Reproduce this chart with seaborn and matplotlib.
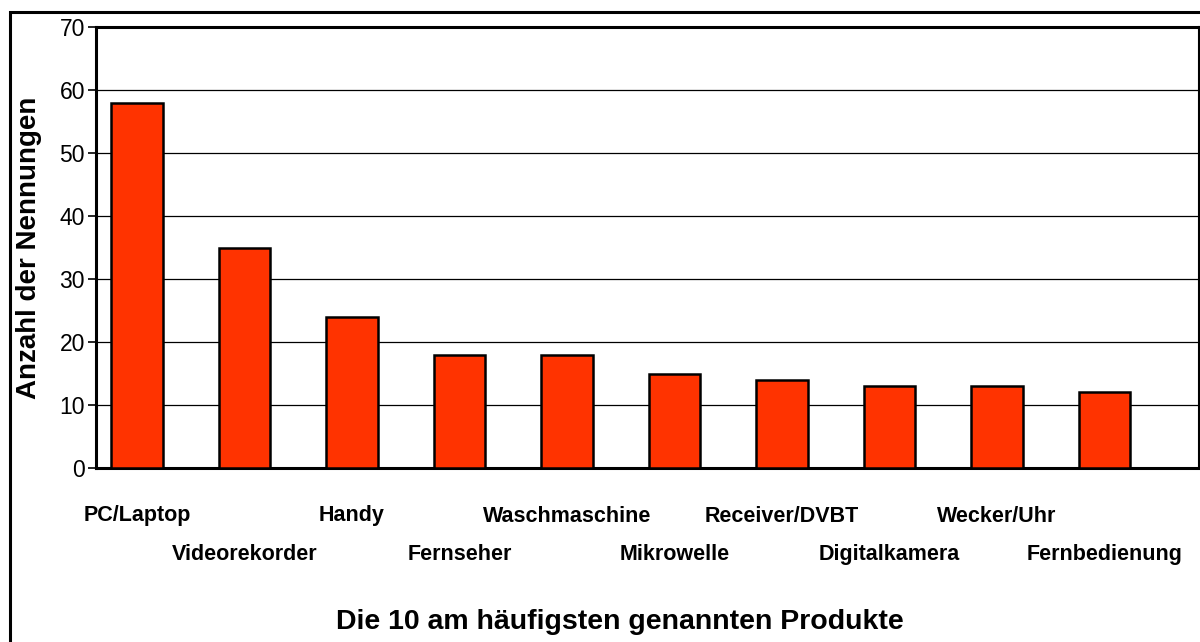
import matplotlib
matplotlib.use("Agg")
import matplotlib.pyplot as plt
import seaborn as sns
import pandas as pd
from matplotlib.patches import Rectangle

produkte = ["PC/Laptop", "Videorekorder", "Handy", "Fernseher", "Waschmaschine",
            "Mikrowelle", "Receiver/DVBT", "Digitalkamera", "Wecker/Uhr", "Fernbedienung"]
nennungen = [58, 35, 24, 18, 18, 15, 14, 13, 13, 12]
y_ticks = [0, 10, 20, 30, 40, 50, 60, 70]

df = pd.DataFrame({"produkt": produkte, "anzahl": nennungen})

sns.set_style("white")
plt.rcParams["font.family"] = ["Liberation Sans", "DejaVu Sans"]
plt.rcParams["text.color"] = "black"
plt.rcParams["axes.labelcolor"] = "black"
plt.rcParams["xtick.color"] = "black"
plt.rcParams["ytick.color"] = "black"

fig = plt.figure(figsize=(12, 6.42), dpi=100)
ax = fig.add_axes([96 / 1200, 1 - 468 / 642, (1199 - 96) / 1200, (468 - 27) / 642])

sns.barplot(data=df, x="produkt", y="anzahl", color="#FF3300", saturation=1,
            edgecolor="black", linewidth=1.8, width=0.48, ax=ax, zorder=3)

ax.set_ylim(0, 70)
ax.set_xlim(-0.38, 9.88)
ax.set_yticks(y_ticks)
ax.yaxis.grid(True, color="black", linewidth=0.9)
ax.set_axisbelow(True)
ax.tick_params(axis="y", which="major", left=True, length=6, width=1.2,
               labelsize=16.5, pad=2, direction="out", color="black", labelcolor="black")
ax.tick_params(axis="x", bottom=False, labelsize=15.5, labelcolor="black")
for lbl in ax.get_xticklabels():
    lbl.set_fontweight("bold")
for i, t in enumerate(ax.xaxis.get_major_ticks()):
    t.set_pad(23.5 if i % 2 == 0 else 51.5)

for side in ["left", "bottom", "top"]:
    ax.spines[side].set_linewidth(2.2)
    ax.spines[side].set_color("black")
ax.spines["right"].set_linewidth(1.5)
ax.spines["right"].set_color("black")

ax.set_xlabel("")
ax.set_ylabel("Anzahl der Nennungen", fontsize=20, fontweight="bold", color="black")
ax.yaxis.set_label_coords(-0.049, 0.5)

fig.text(620 / 1200, 1 - 622 / 642, "Die 10 am häufigsten genannten Produkte",
         ha="center", va="center", fontsize=20.5, fontweight="bold", color="black")

fig.patches.append(Rectangle((10 / 1200, -0.1), 1.0, 1 - 12 / 642 + 0.1, fill=False,
                             edgecolor="black", linewidth=2.2,
                             transform=fig.transFigure, figure=fig))

fig.savefig("out.png", dpi=100)
